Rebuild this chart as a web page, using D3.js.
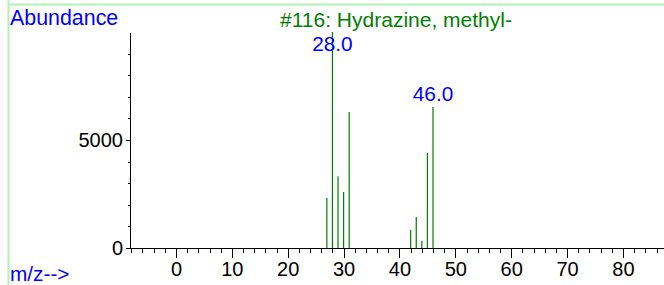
<!DOCTYPE html>
<meta charset="utf-8">
<script src="https://cdn.jsdelivr.net/npm/d3@7"></script>
<style>
body { margin: 0; background: #fff; }
text { font-family: Arial, "Liberation Sans", sans-serif; }
.axis path, .axis line { stroke: #000; shape-rendering: crispEdges; }
.axis text { fill: #000; font-size: 20px; font-family: Arial, "Liberation Sans", sans-serif; }
</style>
<body>
<script>

// spectrum data (m/z vs abundance)
var mz = [27, 28, 29, 30, 31, 42, 43, 44, 45, 46];
var abundance = [2320, 10000, 3320, 2590, 6300, 850, 1440, 340, 4400, 6530];
var labelled = [28, 46];

var xMajor = [0, 10, 20, 30, 40, 50, 60, 70, 80];
var xMinor = d3.range(-8, 87, 2);
var yMajor = [0, 5000];
var yMinor = [1000, 2000, 3000, 4000, 6000, 7000, 8000, 9000];

var title = "#116: Hydrazine, methyl-";

var width = 664,
    height = 285;

var svg = d3.select("body").append("svg")
    .attr("width", width)
    .attr("height", height);

// light green frame
svg.append("line")
    .attr("x1", 8.5).attr("x2", 8.5).attr("y1", 0).attr("y2", height)
    .attr("stroke", "#b4f2b4").attr("stroke-width", 2);
svg.append("line")
    .attr("x1", 8).attr("x2", width).attr("y1", 4.5).attr("y2", 4.5)
    .attr("stroke", "#b4f2b4").attr("stroke-width", 2);

var x = d3.scaleLinear().domain([-8.23, 87.34]).range([130, 664]);
var y = d3.scaleLinear().domain([0, 10000]).range([248, 32]);

// x axis
svg.append("g")
    .attr("class", "axis")
    .attr("transform", "translate(0,248)")
    .call(d3.axisBottom(x).tickValues(xMinor).tickSize(5).tickSizeOuter(0).tickFormat(""));
svg.append("g")
    .attr("class", "axis")
    .attr("transform", "translate(0,248)")
    .call(d3.axisBottom(x).tickValues(xMajor).tickSize(10).tickSizeOuter(0).tickPadding(4))
    .call(function(g) { g.select(".domain").remove(); });

// y axis
svg.append("g")
    .attr("class", "axis")
    .attr("transform", "translate(130,0)")
    .call(d3.axisLeft(y).tickValues(yMinor).tickSize(2).tickSizeOuter(0).tickFormat(""));
svg.append("g")
    .attr("class", "axis")
    .attr("transform", "translate(130,0)")
    .call(d3.axisLeft(y).tickValues(yMajor).tickSize(4).tickSizeOuter(0).tickPadding(3).tickFormat(d3.format("d")))
    .call(function(g) { g.select(".domain").remove(); });

// peaks
svg.append("g")
    .selectAll("line")
    .data(mz)
    .enter()
    .append("line")
    .attr("x1", function(d) { return x(d); })
    .attr("x2", function(d) { return x(d); })
    .attr("y1", y(0))
    .attr("y2", function(d, i) { return y(abundance[i]); })
    .attr("stroke", "#008000")
    .attr("stroke-width", 1.2);

// peak labels
svg.append("g")
    .selectAll("text")
    .data(labelled)
    .enter()
    .append("text")
    .attr("x", function(d) { return x(d); })
    .attr("y", function(d) {
        var v = abundance[mz.indexOf(d)];
        return Math.max(y(v) - 6, 51);
    })
    .attr("text-anchor", "middle")
    .style("font-size", "20.8px")
    .style("fill", "#0000ff")
    .text(function(d) { return d.toFixed(1); });

svg.append("text")
    .attr("x", 10)
    .attr("y", 25)
    .style("font-size", "21.4px")
    .style("fill", "#0000ff")
    .text("Abundance");

svg.append("text")
    .attr("x", 10)
    .attr("y", 281)
    .style("font-size", "20.8px")
    .style("fill", "#0000ff")
    .text("m/z-->");

svg.append("text")
    .attr("x", 396)
    .attr("y", 27)
    .attr("text-anchor", "middle")
    .style("font-size", "21px")
    .style("fill", "#008000")
    .text(title);

</script>
</body>
</html>
